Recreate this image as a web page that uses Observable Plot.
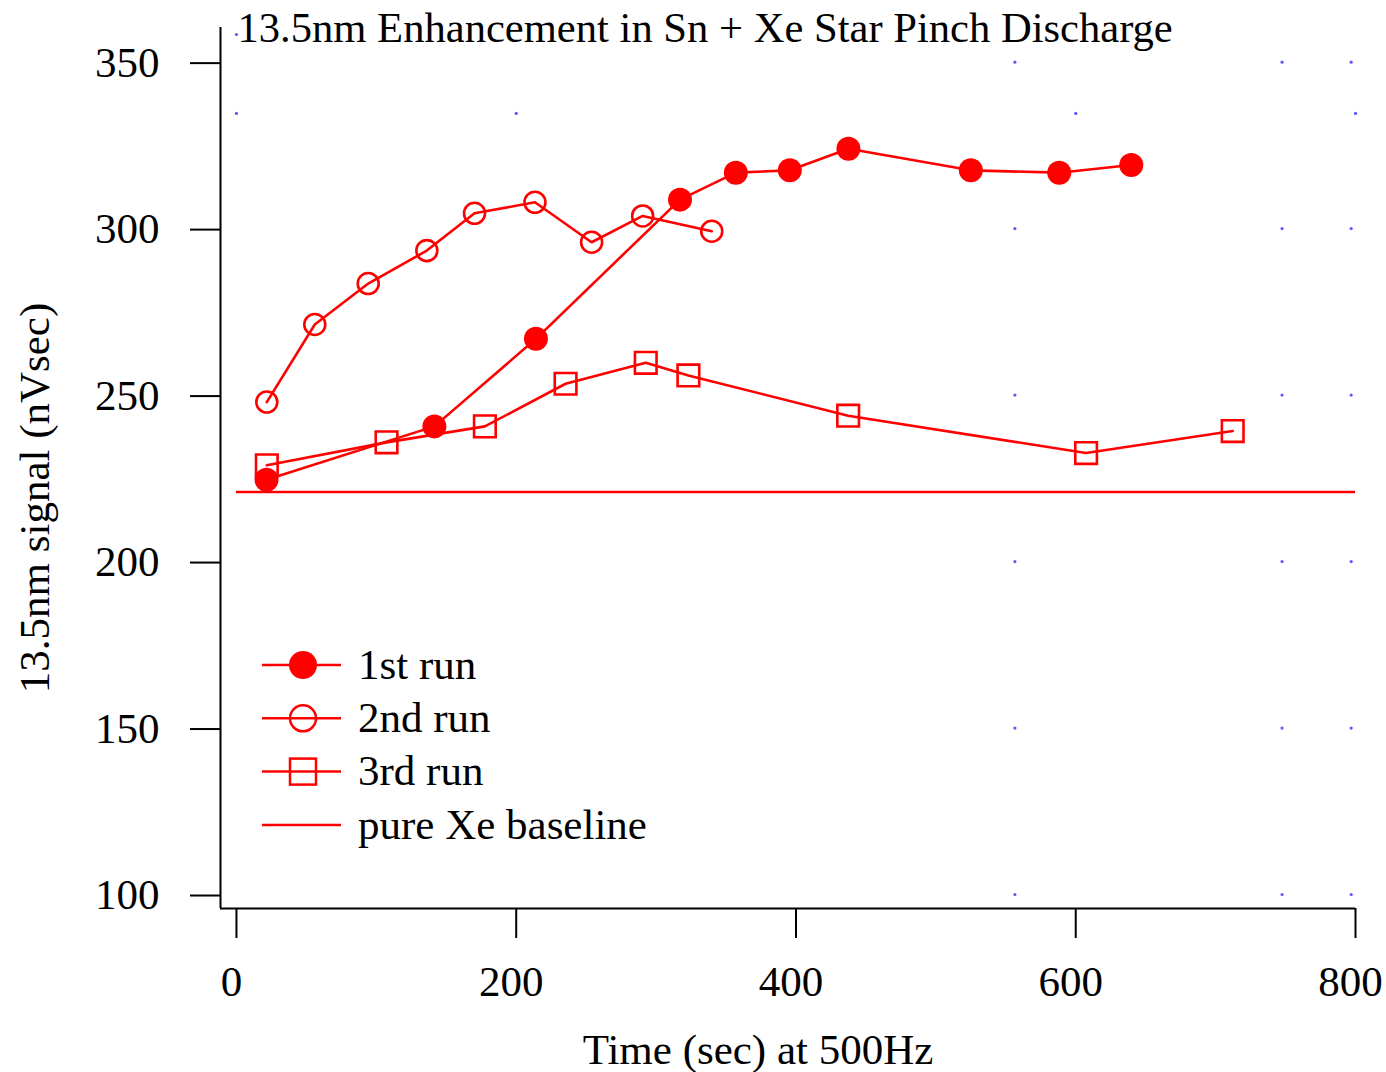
<!DOCTYPE html>
<html><head><meta charset="utf-8">
<script src="https://cdn.jsdelivr.net/npm/d3@7"></script>
<script src="https://cdn.jsdelivr.net/npm/@observablehq/plot@0.6"></script>
<style>
body{margin:0;background:#fff;}
#wrap{position:relative;width:1386px;height:1072px;}
</style></head><body><div id="wrap"></div>
<script>
// ---- data ----
const titleText = "13.5nm Enhancement in Sn + Xe Star Pinch Discharge";
const xLabel = "Time (sec) at 500Hz";
const yLabel = "13.5nm signal (nVsec)";
const xTicks = [0, 200, 400, 600, 800];
const yTicks = [100, 150, 200, 250, 300, 350];
const xDomain = [-11.4, 800];
const yDomain = [95.8, 360.4];

const run1X = [21.5, 141.5, 214.1, 317.1, 357, 395.6, 437.5, 525, 588.2, 639.7];
const run1Y = [224.6, 240.6, 266.9, 308.7, 316.8, 317.5, 324.0, 317.5, 316.8, 319.1];
const run2X = [21.7, 56.0, 94.2, 136.1, 170.2, 213.4, 253.9, 290.4, 339.8];
const run2Y = [247.9, 271.2, 283.5, 293.4, 304.6, 307.9, 295.9, 303.8, 299.2];
const run3X = [21.7, 107.3, 177.6, 235.3, 292.6, 323.1, 437.3, 607.4, 712.2];
const run3Y = [228.9, 235.8, 240.6, 253.4, 259.7, 255.9, 243.8, 232.6, 239.2];
const baselineY = [220.9];
const legendLabels = ["1st run", "2nd run", "3rd run", "pure Xe baseline"];

// stray blue grid dots visible in the reference
const strayColX = [556.5, 747.5, 796.9];
const strayColY = [350, 300, 250, 200, 150, 100];
const strayRowX = [0, 200, 600, 800];
const strayRowY = [334.6];
const strayExtra = [{x: 0, y: 358.3}];

// ---- build tables ----
const zip = (xs, ys) => xs.map((x, i) => ({x, y: ys[i]}));
const r1 = zip(run1X, run1Y), r2 = zip(run2X, run2Y), r3 = zip(run3X, run3Y);
const stray = [];
strayColY.forEach(y => strayColX.forEach(x => stray.push({x, y})));
strayRowY.forEach(y => strayRowX.forEach(x => stray.push({x, y})));
strayExtra.forEach(d => stray.push(d));

const RED = "#ff0000";
const FONT = "'Liberation Serif', 'Times New Roman', serif";
const FS = 43;

const chart = Plot.plot({
  width: 1386, height: 1072,
  marginLeft: 220, marginRight: 31, marginTop: 27, marginBottom: 164,
  x: {domain: xDomain},
  y: {domain: yDomain},
  style: {fontFamily: FONT, fontSize: FS + "px", color: "black", background: "white", overflow: "visible"},
  marks: [
    Plot.dot(stray, {x: "x", y: "y", r: 1.6, fill: "#5a5aff", stroke: null}),
    Plot.ruleX([xDomain[0]], {y1: yDomain[0], y2: yDomain[1], stroke: "black", strokeWidth: 2}),
    Plot.ruleY([yDomain[0]], {x1: xDomain[0], x2: xTicks[xTicks.length - 1], stroke: "black", strokeWidth: 2}),
    Plot.axisX({ticks: xTicks, tickSize: 30, tickPadding: 27, fontSize: FS, label: null, strokeWidth: 2, tickFormat: d3.format("d")}),
    Plot.axisY({ticks: yTicks, tickSize: 30, tickPadding: 31, fontSize: FS, label: null, strokeWidth: 2, dy: 1, tickFormat: d3.format("d")}),
    Plot.ruleY(baselineY, {x1: 0, x2: 800, stroke: RED, strokeWidth: 2.5}),
    Plot.line(r1, {x: "x", y: "y", stroke: RED, strokeWidth: 2.6}),
    Plot.line(r2, {x: "x", y: "y", stroke: RED, strokeWidth: 2.6}),
    Plot.line(r3, {x: "x", y: "y", stroke: RED, strokeWidth: 2.6}),
    Plot.dot(r1, {x: "x", y: "y", r: 12, fill: RED, stroke: null}),
    Plot.dot(r2, {x: "x", y: "y", r: 10.5, fill: "none", stroke: RED, strokeWidth: 2.6}),
    Plot.dot(r3, {x: "x", y: "y", r: 12.2, symbol: "square", fill: "none", stroke: RED, strokeWidth: 2.6}),
    Plot.text([titleText], {frameAnchor: "top-left", dx: 17, dy: 1, textAnchor: "start", lineAnchor: "middle", fontSize: 42.6, fill: "black"}),
    Plot.text([xLabel], {frameAnchor: "bottom", dx: -30, dy: 142, textAnchor: "middle", lineAnchor: "middle", fontSize: FS, fill: "black"}),
    Plot.text([yLabel], {frameAnchor: "left", dx: -185, dy: 30, rotate: -90, textAnchor: "middle", lineAnchor: "middle", fontSize: FS, fill: "black"})
  ]
});
document.getElementById("wrap").appendChild(chart);

// shift x tick labels slightly left, as in the reference
d3.select(chart).selectAll("g[aria-label='x-axis tick label'] text").attr("dx", -5);

// ---- legend (drawn into the same svg) ----
const svg = d3.select(chart);
const lg = svg.append("g").attr("font-family", FONT).attr("font-size", FS).attr("text-anchor", "start");
const rowY0 = 665, rowStep = 53.3;
legendLabels.forEach((lab, i) => {
  const y = rowY0 + i * rowStep;
  const g = lg.append("g").attr("transform", `translate(0,${y})`);
  g.append("line").attr("x1", 262).attr("x2", 341).attr("y1", 0).attr("y2", 0).attr("stroke", RED).attr("stroke-width", 2.5);
  if (i === 0) g.append("circle").attr("cx", 303).attr("cy", 0).attr("r", 14).attr("fill", RED);
  if (i === 1) g.append("circle").attr("cx", 303).attr("cy", 0).attr("r", 13).attr("fill", "none").attr("stroke", RED).attr("stroke-width", 2.5);
  if (i === 2) g.append("rect").attr("x", 290).attr("y", -13).attr("width", 26).attr("height", 26).attr("fill", "none").attr("stroke", RED).attr("stroke-width", 2.5);
  g.append("text").attr("x", 358).attr("y", 0).attr("dy", "0.32em").attr("text-anchor", "start").attr("fill", "black").text(lab);
});
</script></body></html>
